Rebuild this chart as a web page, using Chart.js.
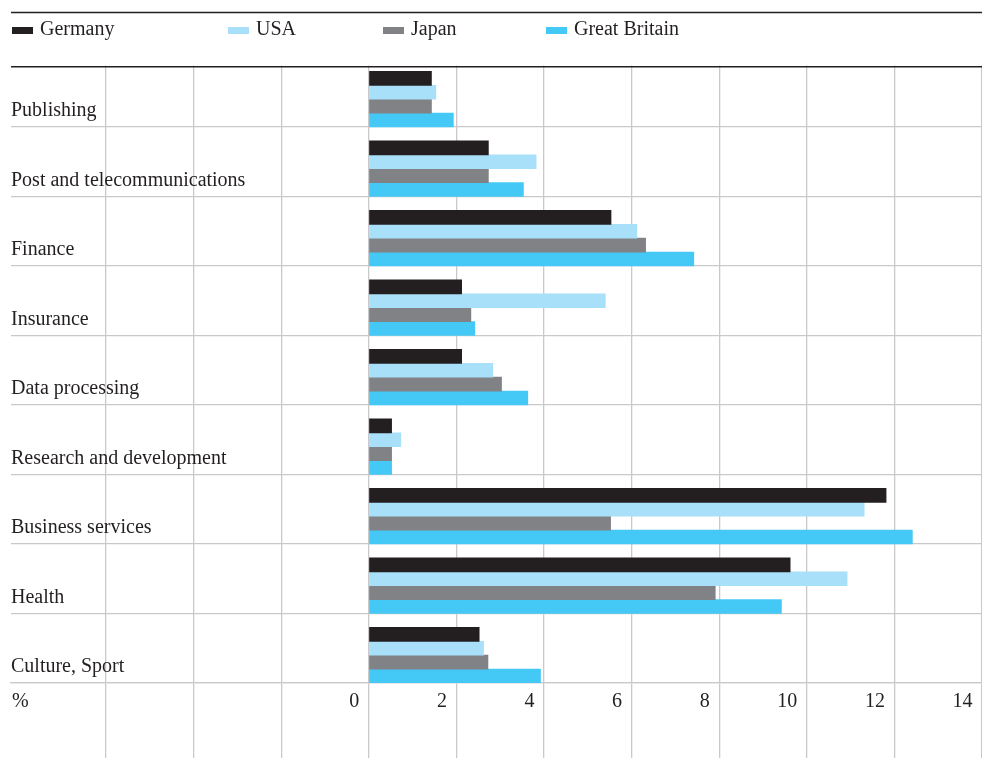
<!DOCTYPE html>
<html>
<head>
<meta charset="utf-8">
<script src="https://cdn.jsdelivr.net/npm/chart.js@4.4.0/dist/chart.umd.min.js"></script>
<style>
  body { margin: 0; background: #fff; font-family: "Liberation Serif", serif; color: #231f20; }
  #wrap { position: relative; width: 982px; height: 758px; overflow: hidden; }
  #legend { position: absolute; left: 0; top: 0; width: 982px; height: 50px; }
  .item { position: absolute; top: 18px; height: 20px; line-height: 20px; font-size: 20px; padding-left: 28px; white-space: nowrap; }
  .swatch { position: absolute; left: 0; top: 9px; width: 21px; height: 7px; }
</style>
</head>
<body>
<div id="wrap">
  <canvas id="chart"></canvas>
  <div id="legend"></div>
</div>
<script>
const categories = [
  "Publishing",
  "Post and telecommunications",
  "Finance",
  "Insurance",
  "Data processing",
  "Research and development",
  "Business services",
  "Health",
  "Culture, Sport"
];

const germany = [1.43, 2.73, 5.53, 2.12, 2.12, 0.52, 11.81, 9.62, 2.52];
const usa = [1.53, 3.82, 6.12, 5.40, 2.83, 0.73, 11.31, 10.92, 2.62];
const japan = [1.43, 2.73, 6.32, 2.33, 3.03, 0.52, 5.52, 7.91, 2.72];
const britain = [1.93, 3.53, 7.42, 2.42, 3.63, 0.52, 12.41, 9.42, 3.92];

const seriesNames = ["Germany", "USA", "Japan", "Great Britain"];
const seriesValues = [germany, usa, japan, britain];
const seriesColors = ["#231f20", "#a8e0f9", "#818285", "#44c8f5"];

const xTicks = [-6, -4, -2, 0, 2, 4, 6, 8, 10, 12, 14];

const textColor = "#231f20";
const gridColor = "#c9c9cb";

Chart.defaults.font.family = '"Liberation Serif", "Times New Roman", serif';
Chart.defaults.font.size = 20;
Chart.defaults.color = textColor;

// heavy rules top and under the legend, plus the "%" unit at the axis start
const framePlugin = {
  id: "frame",
  afterDraw(chart) {
    const { ctx, chartArea } = chart;
    const xScale = chart.scales.x;
    ctx.save();
    // vertical grid should begin at the rule, not at the first band edge
    ctx.fillStyle = "#fff";
    ctx.fillRect(chartArea.left - 1, chartArea.top - 1, chartArea.right - chartArea.left + 2, 9);
    ctx.strokeStyle = textColor;
    ctx.lineWidth = 1.5;
    ctx.beginPath();
    ctx.moveTo(chartArea.left, 12.6);
    ctx.lineTo(chartArea.right, 12.6);
    ctx.moveTo(chartArea.left, chartArea.top + 9.2);
    ctx.lineTo(chartArea.right, chartArea.top + 9.2);
    ctx.stroke();
    ctx.fillStyle = textColor;
    ctx.font = '20px "Liberation Serif"';
    ctx.textBaseline = "middle";
    ctx.fillText("%", chartArea.left + 1, xScale.top + 19);
    ctx.restore();
  }
};

function buildLegend() {
  const left = [12, 228, 383, 546];
  document.getElementById("legend").innerHTML = seriesNames.map((name, i) => `
    <div class="item" style="left:${left[i]}px"><span class="swatch" style="background:${seriesColors[i]}"></span>${name}</div>
  `).join("");
}

function renderChart() {
  const ctx = document.getElementById("chart").getContext("2d");

  // first, empty dataset keeps the free slot above each group of bars
  const datasets = [{ label: "", data: [], backgroundColor: "rgba(0,0,0,0)" }];
  seriesNames.forEach((name, i) => {
    datasets.push({
      label: name,
      data: seriesValues[i],
      backgroundColor: seriesColors[i],
      borderWidth: 0
    });
  });

  new Chart(ctx, {
    type: "bar",
    data: { labels: categories, datasets },
    options: {
      indexAxis: "y",
      responsive: true,
      maintainAspectRatio: false,
      animation: false,
      categoryPercentage: 1,
      barPercentage: 1,
      layout: {
        padding: { left: 11, right: 0, top: 57.5, bottom: 62 }
      },
      plugins: {
        legend: { display: false },
        tooltip: { enabled: false }
      },
      scales: {
        x: {
          type: "linear",
          min: -8.17,
          max: 14,
          afterBuildTicks: axis => {
            axis.ticks = xTicks.map(v => ({ value: v }));
          },
          grid: { color: gridColor, lineWidth: 1.3, tickLength: 75, drawTicks: true },
          border: { color: gridColor, width: 1.3 },
          ticks: {
            mirror: true,
            padding: -31,
            align: "end",
            labelOffset: -9.5,
            maxRotation: 0,
            autoSkip: false,
            color: textColor,
            callback: v => (v >= 0 ? v : "")
          }
        },
        y: {
          type: "category",
          grid: {
            color: c => (c.index === 0 ? "rgba(0,0,0,0)" : gridColor),
            lineWidth: 1.3,
            drawTicks: false,
            offset: true
          },
          border: { display: false },
          ticks: {
            mirror: true,
            padding: 0,
            labelOffset: 18.5,
            autoSkip: false,
            color: textColor
          }
        }
      }
    },
    plugins: [framePlugin]
  });
}

buildLegend();
renderChart();
</script>
</body>
</html>
